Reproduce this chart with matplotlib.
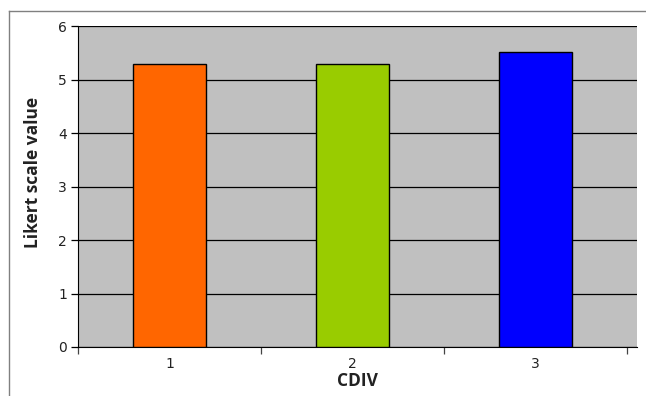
import numpy as np
import matplotlib
matplotlib.use("Agg")
import matplotlib.pyplot as plt
from matplotlib.lines import Line2D

# Data
categories = ["1", "2", "3"]
values = [5.29, 5.29, 5.52]
bar_colors = ["#FF6600", "#99CC00", "#0000FF"]

fig = plt.figure(figsize=(6.46, 3.96), dpi=100)
ax = fig.add_axes([78 / 646, 49 / 396, 559 / 646, 321 / 396])

x = np.arange(1, len(categories) + 1)
ax.bar(x, values, width=0.395, color=bar_colors, edgecolor="black",
       linewidth=1.0, zorder=3)

# Excel-like grey plot area with black gridlines
ax.set_facecolor("#C0C0C0")
ax.set_ylim(0, 6)
ax.set_yticks(range(0, 7))
ax.yaxis.grid(True, color="black", linewidth=0.9, zorder=1)
ax.set_axisbelow(True)

ax.set_xlim(0.5, 0.5 + 559 / 183)
ax.set_xticks(x)
ax.set_xticklabels(categories)
ax.set_xticks(np.arange(0.5, len(categories) + 1, 1.0), minor=True)
ax.tick_params(axis="x", which="major", length=0, pad=7, labelsize=10,
               labelcolor="#222222")
ax.tick_params(axis="x", which="minor", length=5, width=0.9, color="#444444")
ax.tick_params(axis="y", length=5, width=0.9, pad=3, labelsize=10,
               labelcolor="#222222")

for side in ["top", "right"]:
    ax.spines[side].set_visible(False)
ax.spines["left"].set_color("black")
ax.spines["bottom"].set_color("black")

ax.set_xlabel("CDIV", fontsize=12.5, fontweight="bold", family="Open Sans",
              labelpad=1, color="#222222")
ax.set_ylabel("Likert scale value", fontsize=12.5, fontweight="bold",
              family="Open Sans", color="#222222")
ax.yaxis.set_label_coords(-0.064, 0.545)

# chart border (left and top edges visible in the reference)
fig.add_artist(Line2D([9 / 646, 9 / 646], [0, 1 - 11 / 396],
                      transform=fig.transFigure, color="#808080", linewidth=1))
fig.add_artist(Line2D([9 / 646, 1], [1 - 11 / 396, 1 - 11 / 396],
                      transform=fig.transFigure, color="#808080", linewidth=1))

fig.savefig("out.png", dpi=100)
